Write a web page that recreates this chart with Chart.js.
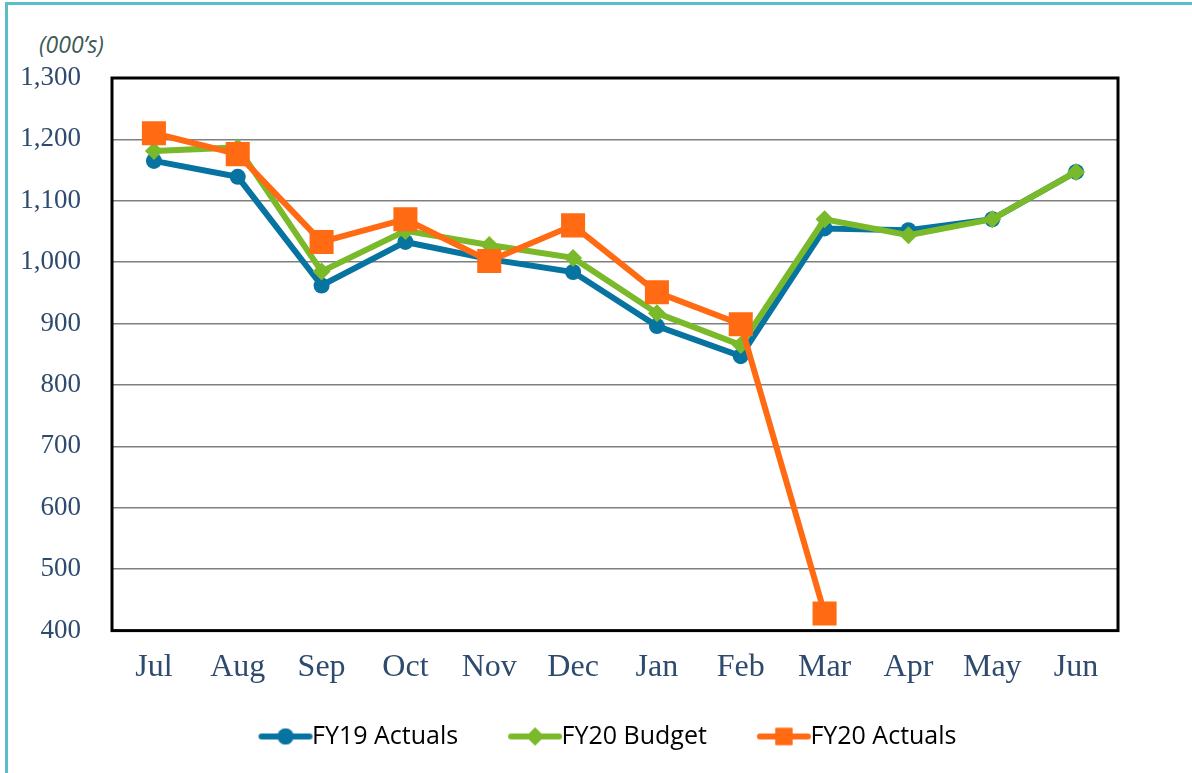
<!DOCTYPE html>
<html>
<head>
<meta charset="utf-8">
<script src="https://cdn.jsdelivr.net/npm/chart.js@4/dist/chart.umd.min.js"></script>
<style>
  html, body { margin:0; padding:0; background:#fff; }
  #wrap { position:relative; width:1192px; height:773px; overflow:hidden; }
  #frame { position:absolute; left:5px; top:2px; width:1200px; height:800px;
           border-left:3px solid #5BBDC6; border-top:3px solid #5BBDC6; }
  #unit { position:absolute; left:39px; top:28px; font:italic 23px "Open Sans", "Noto Sans", sans-serif; color:#3E5A55; }
  canvas { position:absolute; left:0; top:0; }
</style>
</head>
<body>
<div id="wrap">
  <div id="frame"></div>
  <div id="unit">(000’s)</div>
  <canvas id="c" width="1192" height="773"></canvas>
</div>
<script>
// values in thousands
const months = ["Jul","Aug","Sep","Oct","Nov","Dec","Jan","Feb","Mar","Apr","May","Jun"];
const fy19Actuals = [1165, 1139, 962, 1033, 1005, 984, 896, 847, 1055, 1052, 1070, 1147];
const fy20Budget  = [1181, 1187, 985, 1051, 1028, 1007, 917, 865, 1070, 1044, 1070, 1147];
const fy20Actuals = [1210, 1176, 1033, 1070, 1002, 1060, 951, 899, 428, null, null, null];

const BLUE = "#0773A0", GREEN = "#7AB929", ORANGE = "#FF6A13";
const tickColor = "#2E4A6E";

// legend swatch: short line with the marker on it (blank room on the left spaces the items)
function swatch(color, style, r) {
  const cv = document.createElement("canvas");
  cv.width = 100; cv.height = 26;
  const g = cv.getContext("2d");
  g.strokeStyle = color; g.lineWidth = 6; g.lineCap = "round";
  g.beginPath(); g.moveTo(48, 13); g.lineTo(96, 13); g.stroke();
  g.fillStyle = color;
  Chart.helpers.drawPoint(g, {pointStyle: style, radius: r, rotation: 0}, 72, 13);
  g.fill();
  return cv;
}

const plotFrame = {
  id: "plotFrame",
  afterLayout(chart) {
    // nudge legend row to the right, like the original
    if (chart.legend) { chart.legend.left += 33; chart.legend.right += 33; }
  },
  beforeDatasetsDraw(chart) {
    const a = chart.chartArea, ctx = chart.ctx;
    ctx.save();
    ctx.strokeStyle = "#000"; ctx.lineWidth = 3;
    ctx.strokeRect(a.left, a.top, a.right - a.left, a.bottom - a.top);
    ctx.restore();
  }
};

const ds = (label, data, color, style, r, order) => ({
  label, data, order,
  borderColor: color, backgroundColor: color,
  borderWidth: 6, pointStyle: style, pointRadius: r, pointHoverRadius: r,
  pointBorderWidth: 0, tension: 0, spanGaps: false
});

new Chart(document.getElementById("c"), {
  type: "line",
  data: {
    labels: months,
    datasets: [
      ds("FY19 Actuals", fy19Actuals, BLUE, "circle", 8, 3),
      ds("FY20 Budget", fy20Budget, GREEN, "rectRot", 9, 2),
      ds("FY20 Actuals", fy20Actuals, ORANGE, "rect", 17, 1)
    ]
  },
  options: {
    responsive: false, animation: false,
    layout: { padding: { top: 78, right: 74, bottom: 14, left: 0 } },
    plugins: {
      tooltip: { enabled: false },
      legend: {
        position: "bottom",
        labels: {
          usePointStyle: true,
          pointStyleWidth: 72,
          color: "#000",
          font: { family: "Open Sans", size: 25 },
          padding: 19,
          boxHeight: 24,
          sort: (a, b) => a.datasetIndex - b.datasetIndex,
          generateLabels(chart) {
            const icons = [swatch(BLUE, "circle", 8), swatch(GREEN, "rectRot", 9), swatch(ORANGE, "rect", 12)];
            return chart.data.datasets.map((d, i) => ({
              text: d.label, datasetIndex: i, pointStyle: icons[i],
              fillStyle: d.borderColor, strokeStyle: d.borderColor, lineWidth: 0,
              fontColor: "#000", hidden: false
            }));
          }
        }
      }
    },
    scales: {
      x: {
        offset: true,
        grid: { display: false, drawTicks: false },
        border: { display: false },
        ticks: { color: tickColor, font: { family: "Liberation Serif", size: 32 }, padding: 18 }
      },
      y: {
        min: 400, max: 1300,
        afterFit(s) { s.width = 112; },
        grid: { color: "#7F7F7F", lineWidth: 1.5, drawTicks: false },
        border: { display: false },
        ticks: {
          stepSize: 100, padding: 31, color: tickColor,
          font: { family: "Liberation Serif", size: 27 },
          callback: v => v.toLocaleString("en-US")
        }
      }
    }
  },
  plugins: [plotFrame]
});
</script>
</body>
</html>
